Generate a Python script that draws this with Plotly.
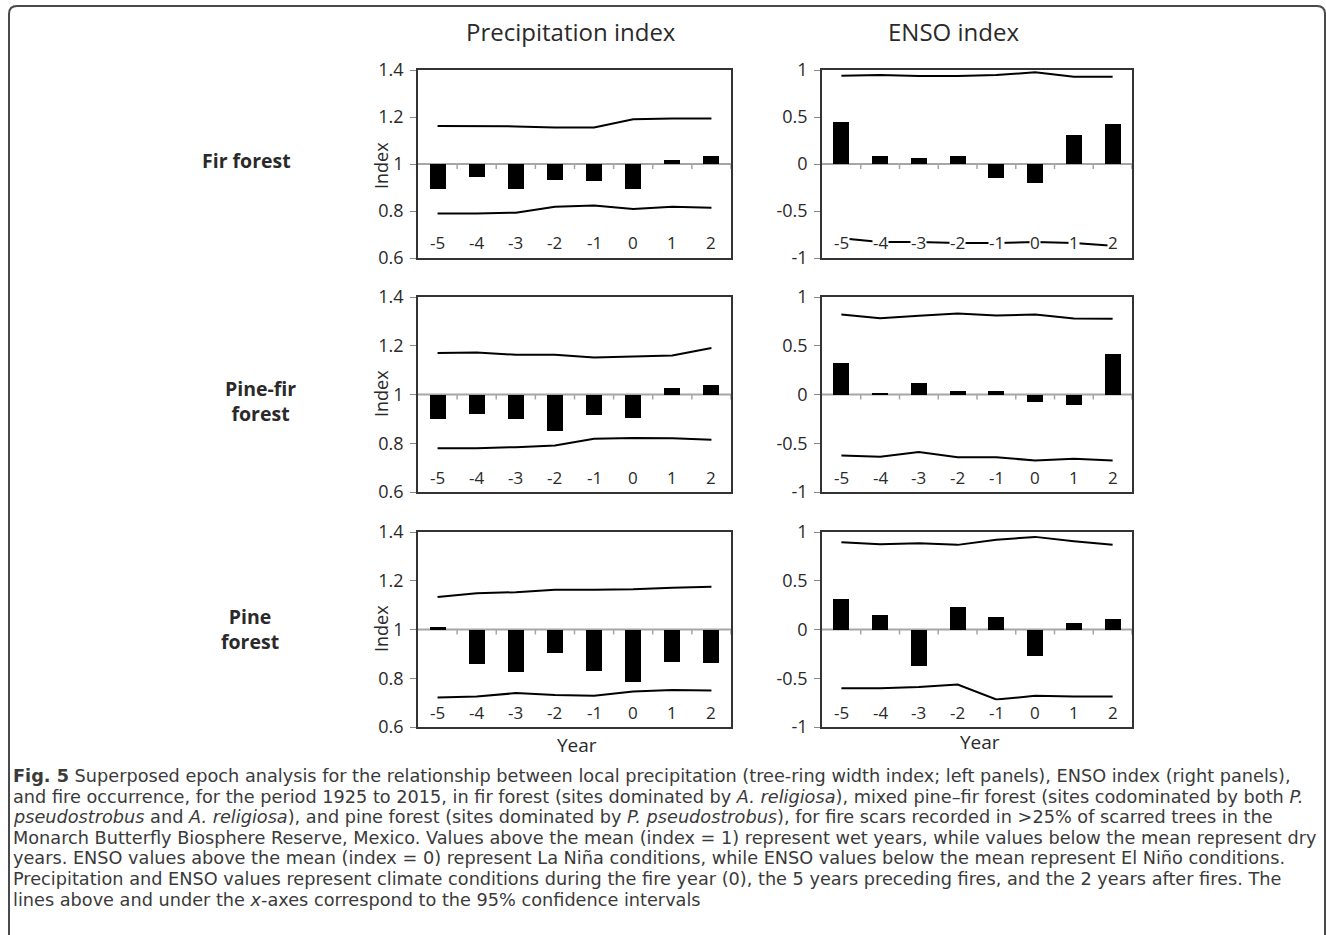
import plotly.graph_objects as go
from plotly.subplots import make_subplots

W, H = 1326, 935

# ---------------- data ----------------
years = [-5, -4, -3, -2, -1, 0, 1, 2]

precip_fir = [0.892, 0.943, 0.892, 0.932, 0.928, 0.892, 1.017, 1.035]
precip_fir_upper = [1.162, 1.162, 1.160, 1.155, 1.155, 1.190, 1.194, 1.194]
precip_fir_lower = [0.789, 0.789, 0.793, 0.818, 0.823, 0.809, 0.818, 0.814]

enso_fir = [0.448, 0.082, 0.061, 0.082, -0.154, -0.197, 0.312, 0.430]
enso_fir_upper = [0.939, 0.946, 0.935, 0.935, 0.946, 0.975, 0.928, 0.928]
enso_fir_lower = [-0.79, -0.83, -0.83, -0.84, -0.84, -0.83, -0.84, -0.87]

precip_pinefir = [0.900, 0.918, 0.900, 0.850, 0.914, 0.904, 1.027, 1.038]
precip_pinefir_upper = [1.170, 1.172, 1.163, 1.163, 1.152, 1.156, 1.160, 1.191]
precip_pinefir_lower = [0.780, 0.780, 0.784, 0.791, 0.818, 0.822, 0.821, 0.814]

enso_pinefir = [0.325, 0.014, 0.123, 0.041, 0.031, -0.079, -0.103, 0.420]
enso_pinefir_upper = [0.820, 0.783, 0.807, 0.831, 0.810, 0.820, 0.780, 0.776]
enso_pinefir_lower = [-0.626, -0.639, -0.591, -0.643, -0.643, -0.677, -0.660, -0.677]

precip_pine = [1.010, 0.859, 0.825, 0.904, 0.829, 0.783, 0.866, 0.863]
precip_pine_upper = [1.133, 1.149, 1.153, 1.163, 1.163, 1.165, 1.171, 1.175]
precip_pine_lower = [0.721, 0.725, 0.739, 0.731, 0.728, 0.746, 0.752, 0.750]

enso_pine = [0.318, 0.147, -0.376, 0.232, 0.130, -0.274, 0.062, 0.103]
enso_pine_upper = [0.896, 0.875, 0.885, 0.868, 0.920, 0.950, 0.906, 0.868]
enso_pine_lower = [-0.602, -0.602, -0.591, -0.564, -0.718, -0.680, -0.687, -0.687]

precip_ticks = [0.6, 0.8, 1.0, 1.2, 1.4]
precip_ticktext = ["0.6", "0.8", "1", "1.2", "1.4"]
enso_ticks = [-1, -0.5, 0, 0.5, 1]
enso_ticktext = ["-1", "-0.5", "0", "0.5", "1"]
year_labels = [str(v) for v in years]

column_titles = ["Precipitation index", "ENSO index"]
row_titles = ["Fir forest", "Pine-fir<br>forest", "Pine<br>forest"]

caption_lines = [
    "<b>Fig. 5</b> Superposed epoch analysis for the relationship between local precipitation (tree-ring width index; left panels), ENSO index (right panels),",
    "and fire occurrence, for the period 1925 to 2015, in fir forest (sites dominated by <i>A. religiosa</i>), mixed pine\u2013fir forest (sites codominated by both <i>P.</i>",
    "<i>pseudostrobus</i> and <i>A. religiosa</i>), and pine forest (sites dominated by <i>P. pseudostrobus</i>), for fire scars recorded in &gt;25% of scarred trees in the",
    "Monarch Butterfly Biosphere Reserve, Mexico. Values above the mean (index = 1) represent wet years, while values below the mean represent dry",
    "years. ENSO values above the mean (index = 0) represent La Ni\u00f1a conditions, while ENSO values below the mean represent El Ni\u00f1o conditions.",
    "Precipitation and ENSO values represent climate conditions during the fire year (0), the 5 years preceding fires, and the 2 years after fires. The",
    "lines above and under the <i>x</i>-axes correspond to the 95% confidence intervals",
]

panels = [
    # (row, col, bars, upper, lower, baseline)
    (1, 1, precip_fir, precip_fir_upper, precip_fir_lower, 1.0),
    (1, 2, enso_fir, enso_fir_upper, enso_fir_lower, 0.0),
    (2, 1, precip_pinefir, precip_pinefir_upper, precip_pinefir_lower, 1.0),
    (2, 2, enso_pinefir, enso_pinefir_upper, enso_pinefir_lower, 0.0),
    (3, 1, precip_pine, precip_pine_upper, precip_pine_lower, 1.0),
    (3, 2, enso_pine, enso_pine_upper, enso_pine_lower, 0.0),
]

# ---------------- layout geometry (pixels) ----------------
col_px = {1: (418, 731), 2: (822, 1132)}
row_px = {1: (70, 258), 2: (297, 492), 3: (532, 727)}


def px(x):
    return x / W


def py(y):
    return 1 - y / H


FONT = "Open Sans"
CAPFONT = "DejaVu Sans"
TXT = "#2a2a2a"
TICKFONT = dict(family=FONT, size=17, color=TXT)

fig = make_subplots(rows=3, cols=2)

shapes = []
annotations = []
for (r, c, bars, up, lo, base) in panels:
    idx = (r - 1) * 2 + c
    xs = "x" if idx == 1 else f"x{idx}"
    ys = "y" if idx == 1 else f"y{idx}"
    fig.add_trace(go.Bar(x=years, y=[v - base for v in bars], base=base,
                         marker=dict(color="black", line=dict(width=0)),
                         width=0.41, showlegend=False), row=r, col=c)
    for series in (up, lo):
        fig.add_trace(go.Scatter(x=years, y=series, mode="lines",
                                 line=dict(color="black", width=2),
                                 showlegend=False), row=r, col=c)
    # baseline (the x-axis crossing) with boundary tick marks
    shapes.append(dict(type="line", xref=f"{xs} domain", yref=ys,
                       x0=0, x1=1, y0=base, y1=base,
                       line=dict(color="#a6a6a6", width=2), layer="below"))
    for yv in years:
        b = yv + 0.5
        shapes.append(dict(type="line", xref=xs, yref=ys, ysizemode="pixel",
                           yanchor=base, x0=b, x1=b, y0=0, y1=-5,
                           line=dict(color="#a6a6a6", width=1.5), layer="below"))

    # category labels sit at the bottom of the plot box on a white background
    for yv, lab in zip(years, year_labels):
        annotations.append(dict(text=lab, x=yv, y=0, xref=xs,
                                yref=f"{ys} domain", yshift=15,
                                showarrow=False, xanchor="center",
                                yanchor="middle", bgcolor="white",
                                borderpad=0, font=TICKFONT))

    xd = (px(col_px[c][0]), px(col_px[c][1]))
    yd = (py(row_px[r][1]), py(row_px[r][0]))
    fig.update_xaxes(domain=list(xd), range=[-5.5, 2.5], tickvals=years,
                     ticktext=year_labels, showticklabels=False,
                     ticks="", showgrid=False,
                     zeroline=False, showline=True, mirror=True,
                     linecolor="#333", linewidth=1.5, automargin=False,
                     row=r, col=c)
    if c == 1:
        yr, tv, tt = [0.6, 1.4], precip_ticks, precip_ticktext
    else:
        yr, tv, tt = [-1, 1], enso_ticks, enso_ticktext
    fig.update_yaxes(domain=list(yd), range=yr, tickvals=tv, ticktext=tt,
                     ticks="outside", ticklen=6, tickcolor="#888",
                     showgrid=False, zeroline=False, showline=True,
                     mirror=True, linecolor="#333", linewidth=1.5,
                     automargin=False,
                     tickfont=dict(family=FONT, size=18, color=TXT),
                     ticklabelstandoff=3,
                     row=r, col=c)

# column titles
for text, cx in zip(column_titles, [571, 953]):
    annotations.append(dict(text=text, x=px(cx), y=py(32), xref="paper",
                            yref="paper", showarrow=False, xanchor="center",
                            yanchor="middle",
                            font=dict(family=FONT, size=24, color=TXT)))
# row titles
for text, (cx, cy) in zip(row_titles, [(246, 160), (260, 401), (250, 629)]):
    annotations.append(dict(text=f"<b>{text}</b>", x=px(cx), y=py(cy),
                            xref="paper", yref="paper", showarrow=False,
                            xanchor="center", yanchor="middle",
                            font=dict(family=FONT, size=19.5, color=TXT)))
# y titles
for cy in [165, 393, 628]:
    annotations.append(dict(text="Index", x=px(381), y=py(cy), xref="paper",
                            yref="paper", showarrow=False, textangle=-90,
                            xanchor="center", yanchor="middle",
                            font=dict(family=FONT, size=18, color=TXT)))
# x titles
for cx, cy in [(577, 745), (980, 742)]:
    annotations.append(dict(text="Year", x=px(cx), y=py(cy), xref="paper",
                            yref="paper", showarrow=False, xanchor="center",
                            yanchor="middle",
                            font=dict(family=FONT, size=19, color=TXT)))
# caption
for i, line in enumerate(caption_lines):
    annotations.append(dict(text=line, x=px(11), y=py(776 + i * 20.6),
                            xref="paper", yref="paper", showarrow=False,
                            xanchor="left", yanchor="middle", align="left",
                            font=dict(family=CAPFONT, size=17.7, color="#3a3a3a")))


# outer rounded frame
def P(x, y):
    return f"{px(x):.5f},{py(y):.5f}"


frame_path = ("M " + P(9, 940) + " L " + P(9, 14) + " Q " + P(9, 6) + " " + P(17, 6)
              + " L " + P(1317, 6) + " Q " + P(1325, 6) + " " + P(1325, 14)
              + " L " + P(1325, 940))
shapes.append(dict(type="path", xref="paper", yref="paper", path=frame_path,
                   line=dict(color="#4a4a4a", width=2)))

fig.update_layout(width=W, height=H, autosize=False,
                  margin=dict(l=0, r=0, t=0, b=0, pad=0),
                  paper_bgcolor="white", plot_bgcolor="white",
                  bargap=0, showlegend=False,
                  shapes=shapes, annotations=annotations,
                  font=dict(family=FONT, color=TXT))

fig.write_html("out.html")
